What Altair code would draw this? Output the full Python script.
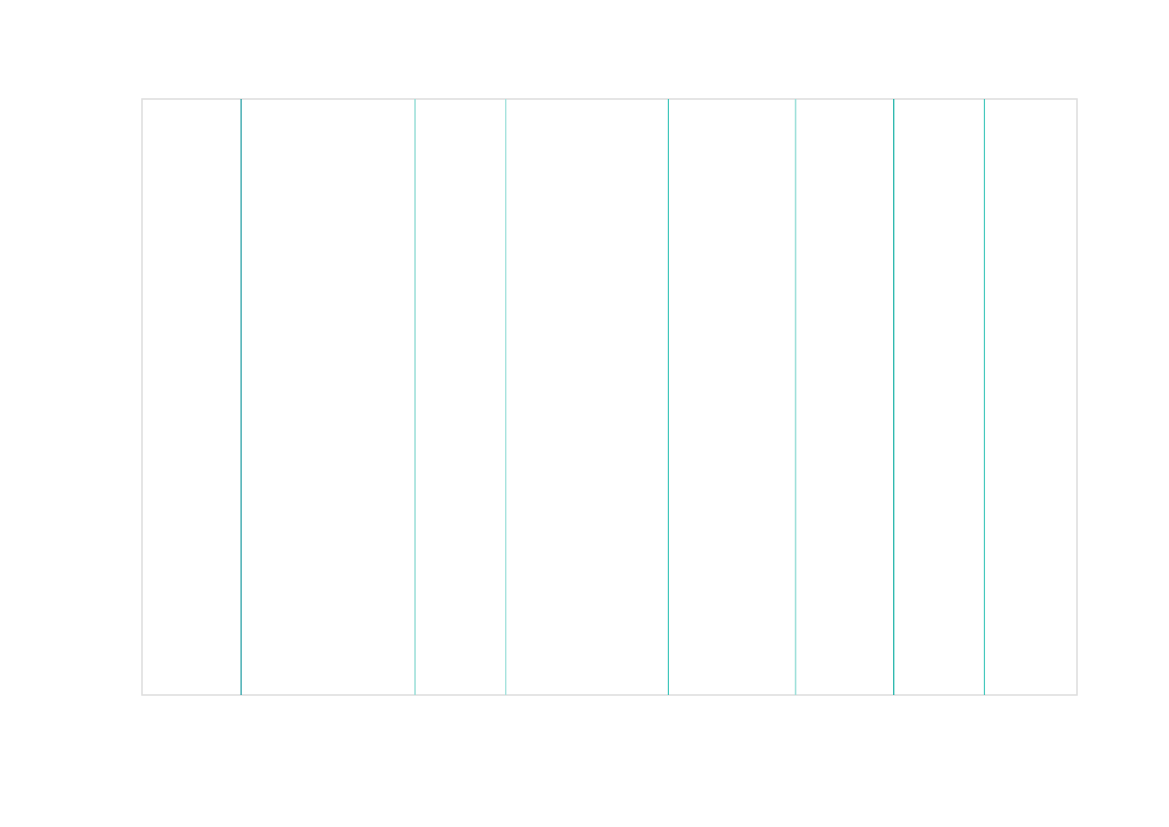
import altair as alt
import pandas as pd

positions = [10.6, 29.2, 38.9, 56.3, 69.9, 80.4, 90.1]
colors = ["#1a9aa0", "#9fe0da", "#a6e3de", "#3fc6bb", "#9fe0da", "#12b0a4", "#45c8bd"]
widths = [1.2, 1.6, 1.4, 1.2, 1.6, 1.2, 1.2]

df = pd.DataFrame({"pos": positions, "col": colors, "w": widths, "id": list(range(len(positions)))})

chart = alt.Chart(df).mark_rule().encode(
    x=alt.X("pos:Q", scale=alt.Scale(domain=[0, 100], nice=False, zero=False), axis=None),
    color=alt.Color("col:N", scale=None),
    strokeWidth=alt.StrokeWidth("w:Q", scale=None),
    detail="id:N",
).properties(
    width=935,
    height=596,
    padding={"left": 134, "top": 90, "right": 10, "bottom": 10},
).configure_view(stroke="#dddddd", strokeWidth=1.5)

chart.save("out.html", embed_options={"renderer": "svg", "actions": False})
